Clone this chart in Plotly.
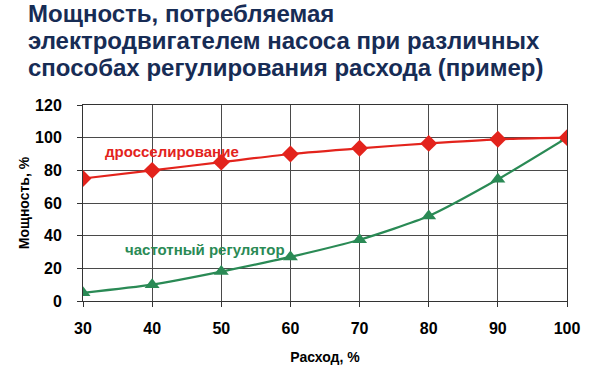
import plotly.graph_objects as go

flow = [30, 40, 50, 60, 70, 80, 90, 100]
throttling = [75, 80, 85, 90, 93.5, 96.5, 99, 100]
vfd = [5, 10, 18, 27, 37.5, 52, 74.5, 100]
x_ticks = [30, 40, 50, 60, 70, 80, 90, 100]
y_ticks = [0, 20, 40, 60, 80, 100, 120]

title_lines = ["Мощность, потребляемая",
               "электродвигателем насоса при различных",
               "способах регулирования расхода (пример)"]
red = "#e3231c"
green = "#2a8a55"
FONT = "Liberation Sans, Arial"

fig = go.Figure()
fig.add_trace(go.Scatter(x=flow, y=vfd, mode="lines+markers",
                         line=dict(color=green, width=2.2, shape="spline", smoothing=0.6),
                         marker=dict(symbol="triangle-up", size=13, color=green),
                         showlegend=False, name="частотный регулятор"))
fig.add_trace(go.Scatter(x=flow, y=throttling, mode="lines+markers",
                         line=dict(color=red, width=2.2, shape="spline", smoothing=0.6),
                         marker=dict(symbol="diamond", size=13, color=red),
                         showlegend=False, name="дросселирование"))

fig.add_annotation(x=32.9, y=91.8, xref="x", yref="y", text="дросселирование",
                   showarrow=False, xanchor="left", yanchor="middle",
                   font=dict(color=red, size=15, family=FONT, weight="bold"))
fig.add_annotation(x=35.8, y=31.8, xref="x", yref="y", text="частотный регулятор",
                   showarrow=False, xanchor="left", yanchor="middle",
                   font=dict(color=green, size=15, family=FONT, weight="bold"))

title_y = [1.467, 1.329, 1.191]
for line, ty in zip(title_lines, title_y):
    fig.add_annotation(x=-0.118, y=ty, xref="paper", yref="paper", text=line,
                       showarrow=False, xanchor="left", yanchor="middle",
                       font=dict(size=24, color="#172c55", family=FONT, weight="bold"))

fig.update_layout(
    width=612, height=377,
    margin=dict(l=83, r=45, t=105, b=76),
    paper_bgcolor="white", plot_bgcolor="white",
    font=dict(family=FONT, color="black"),
    hovermode=False,
)
fig.update_xaxes(range=[30, 100], tickvals=x_ticks, showgrid=True, gridcolor="#4a4a4a", gridwidth=1,
                 showline=True, linecolor="#333", linewidth=1, ticks="outside", ticklen=5, tickcolor="#333",
                 tickfont=dict(size=16, family=FONT, color="black", weight="bold"),
                 ticklabelstandoff=8, automargin=False,
                 title=dict(text="Расход, %", font=dict(size=14, weight="bold"), standoff=15), zeroline=False,
                 mirror=True)
fig.update_yaxes(range=[0, 120], tickvals=y_ticks, showgrid=True, gridcolor="#4a4a4a", gridwidth=1,
                 showline=True, linecolor="#333", linewidth=1, ticks="outside", ticklen=5, tickcolor="#333",
                 tickfont=dict(size=16, family=FONT, color="black", weight="bold"),
                 ticklabelstandoff=12, automargin=False,
                 title=dict(text="Мощность, %", font=dict(size=14, weight="bold"), standoff=2), zeroline=False,
                 mirror=True)

fig.write_html("out.html", config={"displayModeBar": False},
               post_script="document.body.style.margin='0';")
